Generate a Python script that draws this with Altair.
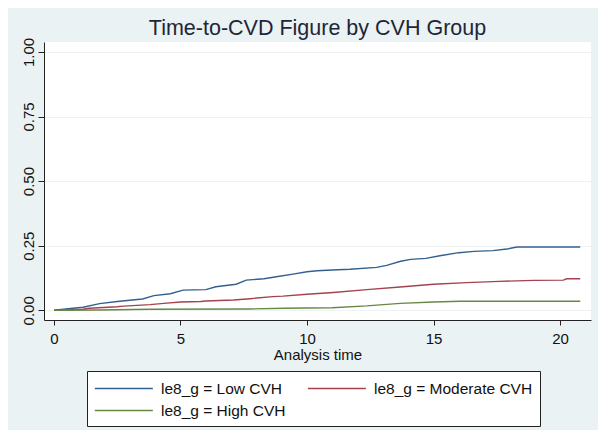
import altair as alt
import pandas as pd

# ---- data ----
low_time = [0, 0.75, 1.15, 1.8, 2.5, 3.5, 3.95, 4.6, 5.1, 6.0, 6.4, 7.2, 7.6, 8.3,
            8.85, 9.45, 10.0, 10.4, 11.0, 11.7, 12.75, 13.15, 13.7, 14.1, 14.7,
            15.25, 16.0, 16.6, 17.35, 17.9, 18.3, 20.8]
low_fail = [0, 0.008, 0.012, 0.026, 0.034, 0.044, 0.057, 0.064, 0.078, 0.080, 0.091,
            0.101, 0.117, 0.122, 0.131, 0.140, 0.149, 0.153, 0.156, 0.159, 0.166,
            0.174, 0.190, 0.197, 0.201, 0.211, 0.223, 0.228, 0.231, 0.237, 0.245, 0.245]

mod_time = [0, 1.15, 1.4, 2.5, 2.75, 3.8, 4.45, 5.0, 5.8, 6.0, 7.1, 7.75, 8.65, 9.05,
            10.0, 11.04, 12.36, 13.68, 15.0, 16.3, 17.6, 18.95, 20.13, 20.26, 20.8]
mod_fail = [0, 0.004, 0.008, 0.014, 0.016, 0.022, 0.028, 0.032, 0.034, 0.036, 0.040,
            0.045, 0.053, 0.055, 0.062, 0.069, 0.080, 0.090, 0.101, 0.107, 0.112,
            0.116, 0.117, 0.122, 0.122]

high_time = [0, 1.8, 3.8, 7.7, 9.1, 10.0, 11.0, 12.36, 13.68, 15.0, 16.05, 20.8]
high_fail = [0, 0.001, 0.004, 0.005, 0.008, 0.009, 0.010, 0.017, 0.027, 0.032, 0.035, 0.035]

groups = ["le8_g = Low CVH", "le8_g = Moderate CVH", "le8_g = High CVH"]
colors = ["#33608f", "#a4424e", "#678845"]

x_ticks = [0, 5, 10, 15, 20]
y_ticks = [0, 0.25, 0.5, 0.75, 1.0]

rows = []
for g, ts, vs in zip(groups, [low_time, mod_time, high_time], [low_fail, mod_fail, high_fail]):
    for i, (t, v) in enumerate(zip(ts, vs)):
        rows.append({"group": g, "time": t, "fail": v, "order": i})
df = pd.DataFrame(rows)

FONT = "Liberation Sans"

chart = alt.Chart(df).mark_line(strokeWidth=1.4).encode(
    x=alt.X("time:Q",
            scale=alt.Scale(domain=[-0.395, 21.225], nice=False, zero=False),
            axis=alt.Axis(values=x_ticks, title="Analysis time", grid=False,
                          format="d", tickSize=5, labelPadding=6, titlePadding=1,
                          labelFontSize=15, titleFontSize=15)),
    y=alt.Y("fail:Q",
            scale=alt.Scale(domain=[-0.0375, 1.0383], nice=False, zero=False),
            axis=alt.Axis(values=y_ticks, title=None, format=".2f", grid=True,
                          tickSize=6, labelPadding=2, labelAngle=270,
                          labelFontSize=15)),
    color=alt.Color("group:N",
                    scale=alt.Scale(domain=groups, range=colors),
                    legend=alt.Legend(title=None, orient="none", legendX=43, legendY=329,
                                      direction="horizontal", columns=2,
                                      symbolType="M-1,0H5", symbolSize=374,
                                      symbolStrokeWidth=1.4,
                                      labelFontSize=15.5, labelFont=FONT,
                                      labelColor="#111111", labelOffset=46,
                                      columnPadding=19, rowPadding=3,
                                      padding=7, strokeColor="#222222",
                                      fillColor="white")),
    order="order:Q",
).properties(
    width=547, height=278,
    title=alt.TitleParams("Time-to-CVD Figure by CVH Group", fontSize=21.5, font=FONT,
                          fontWeight="normal", color="#1f2538", anchor="middle",
                          frame="group", baseline="alphabetic", offset=2, dy=21),
    autosize=alt.AutoSizeParams(type="none"),
    padding={"left": 36, "top": 34, "right": 7, "bottom": 110},
    background="#eaf2f3",
).configure_view(
    fill="white", stroke=None
).configure_axis(
    labelFont=FONT, titleFont=FONT, labelColor="#111111", titleColor="#111111",
    domainColor="#222222", tickColor="#222222", gridColor="#edf2f3",
    titleFontWeight="normal"
)

chart.save("out.html", embed_options={"renderer": "svg", "actions": False})
